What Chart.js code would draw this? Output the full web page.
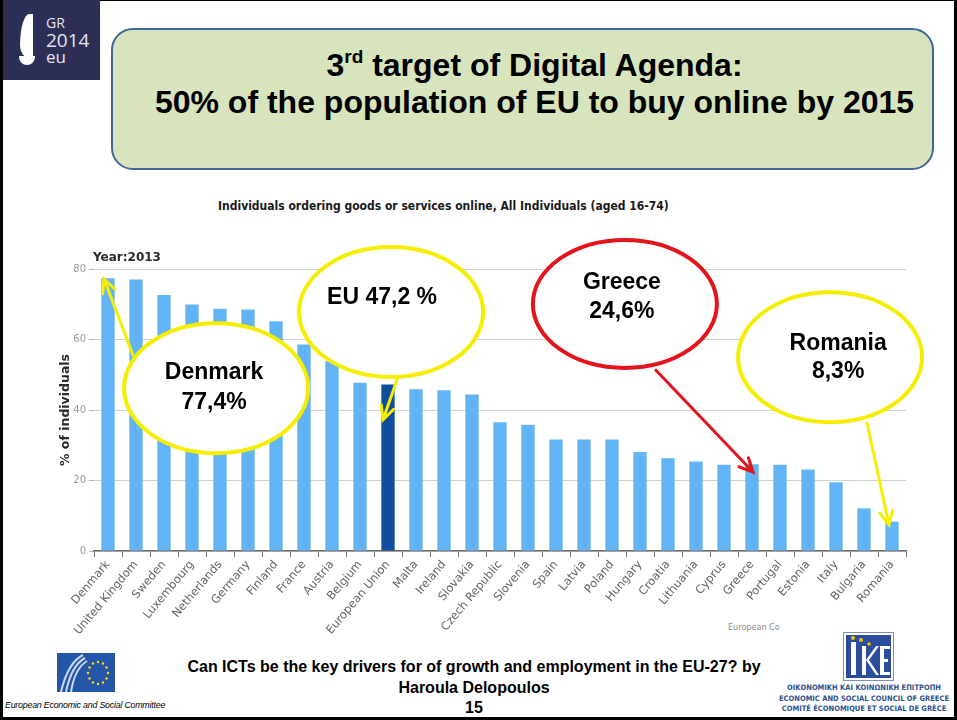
<!DOCTYPE html>
<html lang="en">
<head>
<meta charset="UTF-8">
<title>3rd target of Digital Agenda</title>
<style>
  body { margin: 0; background: #fff; }
  #slide { position: relative; width: 957px; height: 720px; overflow: hidden; font-family: "Liberation Sans", Arial, sans-serif; }
  #frame { position: absolute; left: 0; top: 0; width: 957px; height: 720px; box-sizing: border-box; border: 3px solid #000; border-top-width: 1px; }
  #logo { position: absolute; left: 3px; top: 0; width: 97px; height: 80px; background: #2c2e55; }
  #logo .sail { position: absolute; left: 17px; top: 14px; width: 13px; height: 44px; background: #fff; border-radius: 100% 0 0 100% / 100% 0 0 40%; }
  #logo .cup { position: absolute; left: 16px; top: 56px; width: 16px; height: 9px; background: #fff; border-radius: 0 0 10px 10px; }
  #logo .t { position: absolute; left: 43px; color: #e4e4ee; font-family: "Open Sans", sans-serif; line-height: 1; }
  #titlebox { position: absolute; left: 111px; top: 28px; width: 823px; height: 142px; box-sizing: border-box; background: #d7e4bd; border: 2px solid #41669a; border-radius: 22px; }
  #titlebox div { position: absolute; left: 12px; width: 100%; text-align: center; font-weight: bold; font-size: 32px; line-height: 36px; color: #000; }
  #titlebox sup { font-size: 19px; vertical-align: 13px; line-height: 0; }
  #subtitle { position: absolute; left: 218px; top: 199px; width: 445px; font-family: "DejaVu Sans Condensed", "DejaVu Sans", sans-serif; font-weight: bold; font-size: 12px; color: #1a1a1a; white-space: nowrap; }
  #source { position: absolute; left: 728px; top: 622px; font-family: "DejaVu Sans Condensed", sans-serif; font-size: 9px; color: #8a8a8a; }
  #footer { position: absolute; left: 124px; top: 657px; width: 700px; text-align: center; font-weight: bold; font-size: 16px; line-height: 20.5px; color: #000; }
  #footer .n { line-height: 17px; }
  #eesc { position: absolute; left: 57px; top: 653px; }
  #eesc-name { position: absolute; left: 5px; top: 700px; font-style: italic; font-size: 8.8px; color: #000; letter-spacing: -0.2px; white-space: nowrap; }
  #oke { position: absolute; left: 843px; top: 632px; }
  #oke-name { position: absolute; left: 776px; top: 683px; width: 176px; text-align: center; font-family: "DejaVu Sans Condensed", sans-serif; font-weight: bold; font-size: 7.5px; line-height: 10.5px; color: #2f518f; white-space: nowrap; }
  #grafico { position: absolute; left: 0; top: 0; }
</style>
</head>
<body>
<div id="slide">
  <div id="frame"></div>
  <div id="logo">
    <div class="sail"></div><div class="cup"></div>
    <div class="t" style="top:16px;font-size:14px">GR</div>
    <div class="t" style="top:31px;font-size:19px">2014</div>
    <div class="t" style="top:48px;font-size:17px">eu</div>
  </div>
  <div id="titlebox">
    <div style="top:17px">3<sup>rd</sup> target of Digital Agenda:</div>
    <div style="top:54px">50% of the population of EU to buy online by 2015</div>
  </div>
  <div id="subtitle">Individuals ordering goods or services online, All Individuals (aged 16-74)</div>
  <div id="source">European Co</div>

  <svg id="eesc" width="58" height="39" viewBox="0 0 58 39">
    <rect width="58" height="39" fill="#2356a8"/>
    <path d="M4 39 C8 22 14 8 26 2" stroke="#c9d6ee" stroke-width="2" fill="none"/>
    <path d="M9 39 C12 24 17 11 28 5" stroke="#c9d6ee" stroke-width="2" fill="none"/>
    <path d="M14 39 C16 26 20 14 30 8" stroke="#c9d6ee" stroke-width="2" fill="none"/>
    <g fill="#ffdd00">
      <circle cx="41" cy="9" r="1.2"/><circle cx="46" cy="10.5" r="1.2"/><circle cx="49.5" cy="14.5" r="1.2"/>
      <circle cx="51" cy="20" r="1.2"/><circle cx="49.5" cy="25.5" r="1.2"/><circle cx="46" cy="29.5" r="1.2"/>
      <circle cx="41" cy="31" r="1.2"/><circle cx="36" cy="29.5" r="1.2"/><circle cx="32.5" cy="25.5" r="1.2"/>
      <circle cx="31" cy="20" r="1.2"/><circle cx="32.5" cy="14.5" r="1.2"/><circle cx="36" cy="10.5" r="1.2"/>
    </g>
  </svg>
  <div id="eesc-name">European Economic and Social Committee</div>

  <svg id="oke" width="51" height="49" viewBox="0 0 51 49">
    <rect x="0.5" y="0.5" width="50" height="48" fill="#fff" stroke="#7f8fb5"/>
    <rect x="3" y="3" width="45" height="43" fill="#2b4d9c"/>
    <rect x="8" y="10" width="5" height="33" fill="#fff"/>
    <rect x="19" y="14" width="4" height="29" fill="#fff"/>
    <path d="M23 28 L33 14 L36 14 L26 28 L36 43 L33 43 Z" fill="#fff"/>
    <rect x="37" y="14" width="4" height="29" fill="#fff"/>
    <rect x="37" y="14" width="10" height="3" fill="#fff"/>
    <rect x="37" y="27" width="8" height="3" fill="#fff"/>
    <rect x="37" y="40" width="10" height="3" fill="#fff"/>
    <g fill="#f2c400"><circle cx="10" cy="6" r="2"/><circle cx="18" cy="8" r="2"/><circle cx="26" cy="12" r="1.8"/></g>
  </svg>
  <div id="oke-name">ΟΙΚΟΝΟΜΙΚΗ ΚΑΙ ΚΟΙΝΩΝΙΚΗ ΕΠΙΤΡΟΠΗ<br>ECONOMIC AND SOCIAL COUNCIL OF GREECE<br>COMITÉ ÉCONOMIQUE ET SOCIAL DE GRÈCE</div>

  <div id="footer">Can ICTs be the key drivers for of growth and employment in the EU-27? by<br>Haroula Delopoulos<br><span class="n">15</span></div>

  <canvas id="grafico" width="957" height="720"></canvas>
</div>

<script src="https://cdn.jsdelivr.net/npm/chart.js"></script>
<script>
  // Datos (Eurostat 2013, % de individuos que compran online)
  const categories = ['Denmark', 'United Kingdom', 'Sweden', 'Luxembourg', 'Netherlands', 'Germany', 'Finland',
    'France', 'Austria', 'Belgium', 'European Union', 'Malta', 'Ireland', 'Slovakia', 'Czech Republic', 'Slovenia',
    'Spain', 'Latvia', 'Poland', 'Hungary', 'Croatia', 'Lithuania', 'Cyprus', 'Greece', 'Portugal', 'Estonia',
    'Italy', 'Bulgaria', 'Romania'];
  const values = [77.4, 77.0, 72.6, 69.9, 68.7, 68.5, 65.2, 58.6, 53.8, 47.7, 47.2, 45.9, 45.6, 44.4, 36.5, 35.8,
    31.6, 31.6, 31.6, 28.1, 26.3, 25.4, 24.5, 24.6, 24.5, 23.1, 19.5, 12.1, 8.3];
  const yTicks = [0, 20, 40, 60, 80];
  const yearLabel = 'Year:2013';
  const axisTitle = '% of individuals';

  // Colores
  const barColor = '#63b4f6';
  const euColor = '#0f4d9e';
  const yellow = '#f6ee00';
  const red = '#e3141c';

  // Globos de la diapositiva (posicion en indice de categoria / valor del eje)
  const callouts = [
    { lines: ['Denmark', '77,4%'], target: 'Denmark', color: yellow, cx: 3.86, cy: 46.2, rx: 92, ry: 65,
      textDx: -2, textDy: [-15, 15], from: [0.89, 55.6], tipDx: -4, tipDv: -0.2 },
    { lines: ['EU 47,2 %'], target: 'European Union', color: yellow, cx: 10.11, cy: 67.8, rx: 92, ry: 65,
      textDx: -9, textDy: [-14], from: [10.36, 49.4], tipDx: -5, tipDv: -10 },
    { lines: ['Greece', '24,6%'], target: 'Greece', color: red, cx: 18.46, cy: 70.1, rx: 92, ry: 64,
      textDx: -3, textDy: [-21, 8], from: [19.57, 51.3], tipDx: 1, tipDv: -2.2 },
    { lines: ['Romania', '8,3%'], target: 'Romania', color: yellow, cx: 25.79, cy: 55.0, rx: 92, ry: 65,
      textDx: 8, textDy: [-13, 15], from: [27.11, 36.3], tipDx: -3, tipDv: -0.9 }
  ];

  const calloutPlugin = {
    id: 'callouts',
    afterDatasetsDraw(chart) {
      const { ctx, chartArea, scales: { x, y } } = chart;
      ctx.save();
      ctx.font = 'bold 12px "DejaVu Sans"';
      ctx.fillStyle = '#2a2a2a';
      ctx.textBaseline = 'middle';
      ctx.fillText(yearLabel, chartArea.left - 1, chartArea.top - 11);

      // flechas
      callouts.forEach(c => {
        const i = categories.indexOf(c.target);
        const tx = x.getPixelForValue(i) + c.tipDx;
        const ty = y.getPixelForValue(values[i] + c.tipDv);
        const fx = x.getPixelForValue(c.from[0]);
        const fy = y.getPixelForValue(c.from[1]);
        const ang = Math.atan2(ty - fy, tx - fx);
        ctx.strokeStyle = c.color;
        ctx.lineWidth = 3;
        ctx.lineCap = 'round';
        ctx.beginPath();
        ctx.moveTo(fx, fy);
        ctx.lineTo(tx, ty);
        ctx.moveTo(tx - 15 * Math.cos(ang - 0.45), ty - 15 * Math.sin(ang - 0.45));
        ctx.lineTo(tx, ty);
        ctx.lineTo(tx - 15 * Math.cos(ang + 0.45), ty - 15 * Math.sin(ang + 0.45));
        ctx.stroke();
      });

      // elipses y texto
      callouts.forEach(c => {
        const cx = x.getPixelForValue(c.cx);
        const cy = y.getPixelForValue(c.cy);
        ctx.beginPath();
        ctx.ellipse(cx, cy, c.rx, c.ry, 0, 0, Math.PI * 2);
        ctx.fillStyle = '#fff';
        ctx.fill();
        ctx.lineWidth = 4;
        ctx.strokeStyle = c.color;
        ctx.stroke();
        ctx.fillStyle = '#000';
        ctx.font = 'bold 23px "Liberation Sans", Arial';
        ctx.textAlign = 'center';
        ctx.textBaseline = 'middle';
        c.lines.forEach((t, k) => ctx.fillText(t, cx + c.textDx, cy + c.textDy[k]));
      });
      ctx.restore();
    }
  };

  const lienzo = document.getElementById('grafico');
  const grafico = new Chart(lienzo, {
    type: 'bar',
    data: {
      labels: categories,
      datasets: [{
        label: axisTitle,
        data: values,
        backgroundColor: categories.map(c => c === 'European Union' ? euColor : barColor),
        borderWidth: 0,
        barPercentage: 0.95,
        categoryPercentage: 0.5
      }]
    },
    options: {
      responsive: false,
      animation: false,
      devicePixelRatio: 1,
      layout: { padding: { left: 58, top: 269, right: 51, bottom: 0 } },
      plugins: {
        legend: { display: false },
        tooltip: { enabled: false }
      },
      scales: {
        x: {
          afterFit: s => { s.height = 169; },
          grid: { offset: true, drawOnChartArea: false, tickLength: 6, color: '#6e6e6e', lineWidth: 1 },
          border: { display: true, color: '#6e6e6e', width: 1.5 },
          ticks: {
            autoSkip: false, maxRotation: 50, minRotation: 50, padding: 1,
            color: '#666', font: { family: '"DejaVu Sans"', size: 11.5 }
          }
        },
        y: {
          min: 0,
          max: 80,
          afterFit: s => { s.width = 36; },
          afterBuildTicks: s => { s.ticks = yTicks.map(v => ({ value: v })); },
          grid: { color: '#d2d2d2', lineWidth: 1, tickLength: 5, tickColor: '#b5b5b5' },
          border: { display: false },
          ticks: { color: '#9a9a9a', padding: 3, font: { family: '"DejaVu Sans"', size: 10 } },
          title: {
            display: true, text: axisTitle, color: '#2a2a2a', padding: { top: 0, bottom: 4 },
            font: { family: '"DejaVu Sans"', weight: 'bold', size: 12.5 }
          }
        }
      }
    },
    plugins: [calloutPlugin]
  });
</script>
</body>
</html>
